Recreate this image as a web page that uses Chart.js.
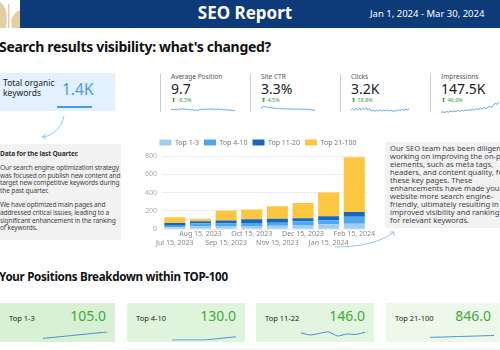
<!DOCTYPE html>
<html><head><meta charset="utf-8">
<script src="https://cdn.jsdelivr.net/npm/chart.js@4"></script>
<style>
html,body{margin:0;padding:0;width:500px;height:350px;overflow:hidden;background:#fff;font-family:"Noto Sans","Open Sans",sans-serif;}
.abs{position:absolute;}
#hdr{left:20px;top:0;width:480px;height:28px;background:#0d3a78;}
#title{left:190px;top:1px;width:110px;text-align:center;color:#fff;font-weight:bold;font-size:17px;}
#date{left:370px;top:7px;color:#fff;font-size:9.5px;}
h1{position:absolute;left:-1px;top:37px;margin:0;font-size:14px;letter-spacing:-0.3px;font-weight:bold;color:#111;}
h2{position:absolute;left:-1px;top:269px;margin:0;font-size:11.6px;letter-spacing:-0.3px;font-weight:bold;color:#111;}
#tok{left:0;top:73px;width:115px;height:38px;background:#e3f0fd;}
#tok .l{position:absolute;left:3px;top:5px;font-size:8.5px;line-height:10px;color:#222;}
#tok .v{position:absolute;left:62px;top:5px;font-size:15.5px;color:#4a9ae2;}
#tok .u{position:absolute;left:57px;top:33px;width:35px;height:1.5px;background:#4a9ae2;}
.gbox{background:#f2f2f2;color:#444;}
#g1{left:0;top:144px;width:121px;height:96px;font-size:6.6px;line-height:7.8px;letter-spacing:-0.15px;white-space:nowrap;overflow:hidden;}
#g1 p{margin:0 0 6px 0;}
#g2{left:385px;top:142px;width:115px;height:86px;font-size:7.6px;line-height:8px;overflow:hidden;white-space:nowrap;}
.sep{width:1px;height:38px;top:74px;background:#ccc;}
.kl{font-size:6.5px;line-height:8px;color:#555;}
.kv{font-size:14px;line-height:13px;color:#222;}
.kd{font-size:5.5px;line-height:6px;color:#3aa03a;}
.card{top:303px;height:39px;}
.card .l{position:absolute;left:9px;top:10px;font-size:7.5px;color:#222;}
.card .v{position:absolute;right:9px;top:3px;font-size:14px;color:#3cac38;}
</style></head><body>
<svg class="abs" style="left:0;top:0" width="20" height="30">
<path d="M0 2 C6 6 8 14 6 28 L0 28 Z" fill="#e2cfa6"/>
<path d="M20 10 C12 13 10 20 12 28 L20 28 Z" fill="#e2cfa6"/>
<rect x="8" y="4" width="1.5" height="24" fill="#e2cfa6"/>
</svg>
<div id="hdr" class="abs"></div>
<div id="title" class="abs">SEO Report</div>
<div id="date" class="abs">Jan 1, 2024 - Mar 30, 2024</div>
<h1>Search results visibility: what's changed?</h1>

<div id="tok" class="abs"><div class="l">Total organic<br>keywords</div><div class="v">1.4K</div><div class="u"></div></div>
<svg class="abs" style="left:0;top:0;pointer-events:none" width="500" height="350">
<path d="M64 116 C62 128 52 136 43 137" stroke="#7db6ec" stroke-width="0.8" fill="none"/>
<path d="M46 134 L42 137 L46 139" stroke="#7db6ec" stroke-width="0.8" fill="none"/>
<path d="M335 247 C360 247 382 242 394 232" stroke="#7db6ec" stroke-width="0.8" fill="none"/>
<path d="M390 232 L394 232 L394 236" stroke="#7db6ec" stroke-width="0.8" fill="none"/>
<line x1="126" y1="349" x2="500" y2="349" stroke="#eee" stroke-width="1"/>
</svg>
<div id="g1" class="abs gbox"><div style="padding:6px 0 0 0">
<p style="font-weight:bold;color:#333;">Data for the last Quarter.</p>
<p>Our search engine optimization strategy<br>was focused on publish new content and<br>target new competitive keywords during<br>the past quarter.</p>
<p>We have optimized main pages and<br>addressed critical issues, leading to a<br>significant enhancement in the ranking<br>of keywords.</p>
</div></div>

<div class="abs sep" style="left:160px"></div>
<div class="abs sep" style="left:250px"></div>
<div class="abs sep" style="left:340px"></div>
<div class="abs sep" style="left:430px"></div>
<div class="abs kl" style="left:171px;top:73px">Average Position</div>
<div class="abs kv" style="left:171px;top:82px">9.7</div>
<div class="abs kd" style="left:171px;top:97px">⬆ -8.3%</div>
<div class="abs kl" style="left:261px;top:73px">Site CTR</div>
<div class="abs kv" style="left:261px;top:82px">3.3%</div>
<div class="abs kd" style="left:261px;top:97px">⬆ 4.5%</div>
<div class="abs kl" style="left:351px;top:73px">Clicks</div>
<div class="abs kv" style="left:351px;top:82px">3.2K</div>
<div class="abs kd" style="left:351px;top:97px">⬆ 18.8%</div>
<div class="abs kl" style="left:441px;top:73px">Impressions</div>
<div class="abs kv" style="left:441px;top:82px">147.5K</div>
<div class="abs kd" style="left:441px;top:97px">⬆ 46.9%</div>
<canvas id="s1" class="abs" style="left:170px;top:103px" width="66" height="14"></canvas>
<canvas id="s2" class="abs" style="left:260px;top:98px" width="56" height="18"></canvas>
<canvas id="s3" class="abs" style="left:350px;top:100px" width="60" height="16"></canvas>
<canvas id="s4" class="abs" style="left:440px;top:100px" width="60" height="17"></canvas>

<canvas id="main" class="abs" style="left:140px;top:134px" width="236" height="114"></canvas>

<div id="g2" class="abs gbox"><div style="padding:2px 0 0 5px">Our SEO team has been diligently<br>working on improving the on-page<br>elements, such as meta tags,<br>headers, and content quality, for<br>these key pages. These<br>enhancements have made your<br>website more search engine-<br>friendly, ultimately resulting in<br>improved visibility and rankings<br>for relevant keywords.</div></div>

<h2>Your Positions Breakdown within TOP-100</h2>
<div class="abs card" style="left:0;width:115px;background:#d8f0d4"><div class="l">Top 1-3</div><div class="v">105.0</div></div>
<div class="abs card" style="left:127px;width:118px;background:#e0f4dd"><div class="l">Top 4-10</div><div class="v">130.0</div></div>
<div class="abs card" style="left:256px;width:118px;background:#e3f5e0"><div class="l">Top 11-22</div><div class="v">146.0</div></div>
<div class="abs card" style="left:386px;width:114px;background:#edf8ea"><div class="l">Top 21-100</div><div class="v">846.0</div></div>
<canvas id="b1" class="abs" style="left:42px;top:331px" width="66" height="10"></canvas>
<canvas id="b2" class="abs" style="left:171px;top:331px" width="66" height="10"></canvas>
<canvas id="b3" class="abs" style="left:300px;top:328px" width="66" height="12"></canvas>
<canvas id="b4" class="abs" style="left:429px;top:330px" width="66" height="10"></canvas>

<script>
const dates = ['Jul 15, 2023','Aug 15, 2023','Sep 15, 2023','Oct 15, 2023','Nov 15, 2023','Dec 15, 2023','Jan 15, 2024','Feb 15, 2024'];
const top1_3   = [21, 30, 35, 35, 39, 46, 53, 60];
const top4_10  = [18, 34, 29, 32, 32, 42, 46, 75];
const top11_20 = [28, 24, 32, 43, 42, 32, 43, 53];
const top21_100= [64, 25, 109, 106, 138, 167, 258, 598];
const yTicks = [0, 200, 400, 600, 800];

const avgPosition = [10.2,10.6,10.1,10.8,10.3,10.9,10.4,11.2,10.5,10.9,10.2,10.7,10.0,10.4,9.8,10.2,9.6,10.1,10.5,10.3,10.8,10.4,10.9,10.6,11.0,10.5,10.8,10.2,10.6,10.9,10.3,10.7,10.1,10.4,9.9,10.2,9.7,9.9,9.5,9.6];
const siteCTR = [4.6,4.9,5.6,4.8,5.2,4.5,4.7,4.3,4.5,4.1,4.2,3.9,4.3,3.8,4.0,3.7,4.1,3.6,3.8,3.9,3.5,3.8,3.6,3.9,3.5,3.7,3.4,3.8,3.5,3.3,3.6,3.2,3.4,3.1,3.0];
const clicks = [3.4,4.6,3.2,4.9,3.6,5.0,3.4,4.8,3.9,5.2,3.5,4.4,2.8,3.6,2.6,3.4,2.9,3.8,2.7,3.5,3.0,3.7,2.9,3.4,3.1,2.6,3.3,2.9,3.6,3.2,3.9,3.4,4.1,3.7,4.4];
const impressions = [1.2,1.4,1.1,1.5,1.3,1.6,1.4,1.7,1.5,1.8,1.6,1.9,1.7,2.0,1.8,2.1,1.9,2.3,2.0,2.4,2.2,2.6,2.3,2.8,2.5,2.9,3.2,2.9,3.6,4.2,3.9,4.8];
const bTop1_3 = [1, 2, 3, 4, 5];
const bTop4_10 = [2, 2, 2, 2.1, 2.2];
const bTop11_22 = [3, 2, 2.8, 3.6, 1.5, 2.5, 2.3, 3.4];
const bTop21_100 = [1, 1.3, 1.6, 1.9, 2.2];

const FONT = '"Noto Sans", "Open Sans", sans-serif';
Chart.defaults.font.family = FONT;
Chart.defaults.animation = false;

new Chart(document.getElementById('main'), {
  type: 'bar',
  data: {
    labels: dates,
    datasets: [
      {label:'Top 1-3', data: top1_3, backgroundColor:'#9fcef3'},
      {label:'Top 4-10', data: top4_10, backgroundColor:'#4fa8ee'},
      {label:'Top 11-20', data: top11_20, backgroundColor:'#1769c0'},
      {label:'Top 21-100', data: top21_100, backgroundColor:'#fdc640'}
    ]
  },
  options: {
    responsive:false,
    layout:{padding:{left:0,right:0,top:0,bottom:0}},
    datasets:{bar:{barPercentage:1, categoryPercentage:0.82}},
    plugins:{
      legend:{position:'top', align:'center', labels:{boxWidth:12, boxHeight:6, padding:5, color:'#777', font:{size:7}}},
      tooltip:{enabled:false}
    },
    scales:{
      x:{stacked:true, grid:{display:false, drawTicks:false}, border:{display:false},
         ticks:{autoSkip:false, maxRotation:0, color:'#888', font:{size:7}, padding:1,
           callback:(v,i)=> i%2===0 ? ['', dates[i]] : [dates[i], '']}},
      y:{stacked:true, min:0, max:800, border:{display:false},
         afterBuildTicks:(ax)=>{ax.ticks = yTicks.map(v=>({value:v}));},
         grid:{color:'#ececec', drawTicks:false}, ticks:{color:'#aaa', font:{size:7}, padding:5}}
    }
  }
});

function spark(id, data, color){
  new Chart(document.getElementById(id), {
    type:'line',
    data:{labels:data.map((_, i)=>i), datasets:[{data, borderColor:color||'#4a9fe8', borderWidth:1, pointRadius:0, tension:0.2, fill:false}]},
    options:{responsive:false, layout:{padding:1}, plugins:{legend:{display:false}, tooltip:{enabled:false}},
      scales:{x:{display:false}, y:{display:false}}}
  });
}
spark('s1', avgPosition);
spark('s2', siteCTR);
spark('s3', clicks);
spark('s4', impressions);
spark('b1', bTop1_3, '#3f8fd6');
spark('b2', bTop4_10, '#3f8fd6');
spark('b3', bTop11_22, '#3f8fd6');
spark('b4', bTop21_100, '#3f8fd6');
</script>
</body></html>
